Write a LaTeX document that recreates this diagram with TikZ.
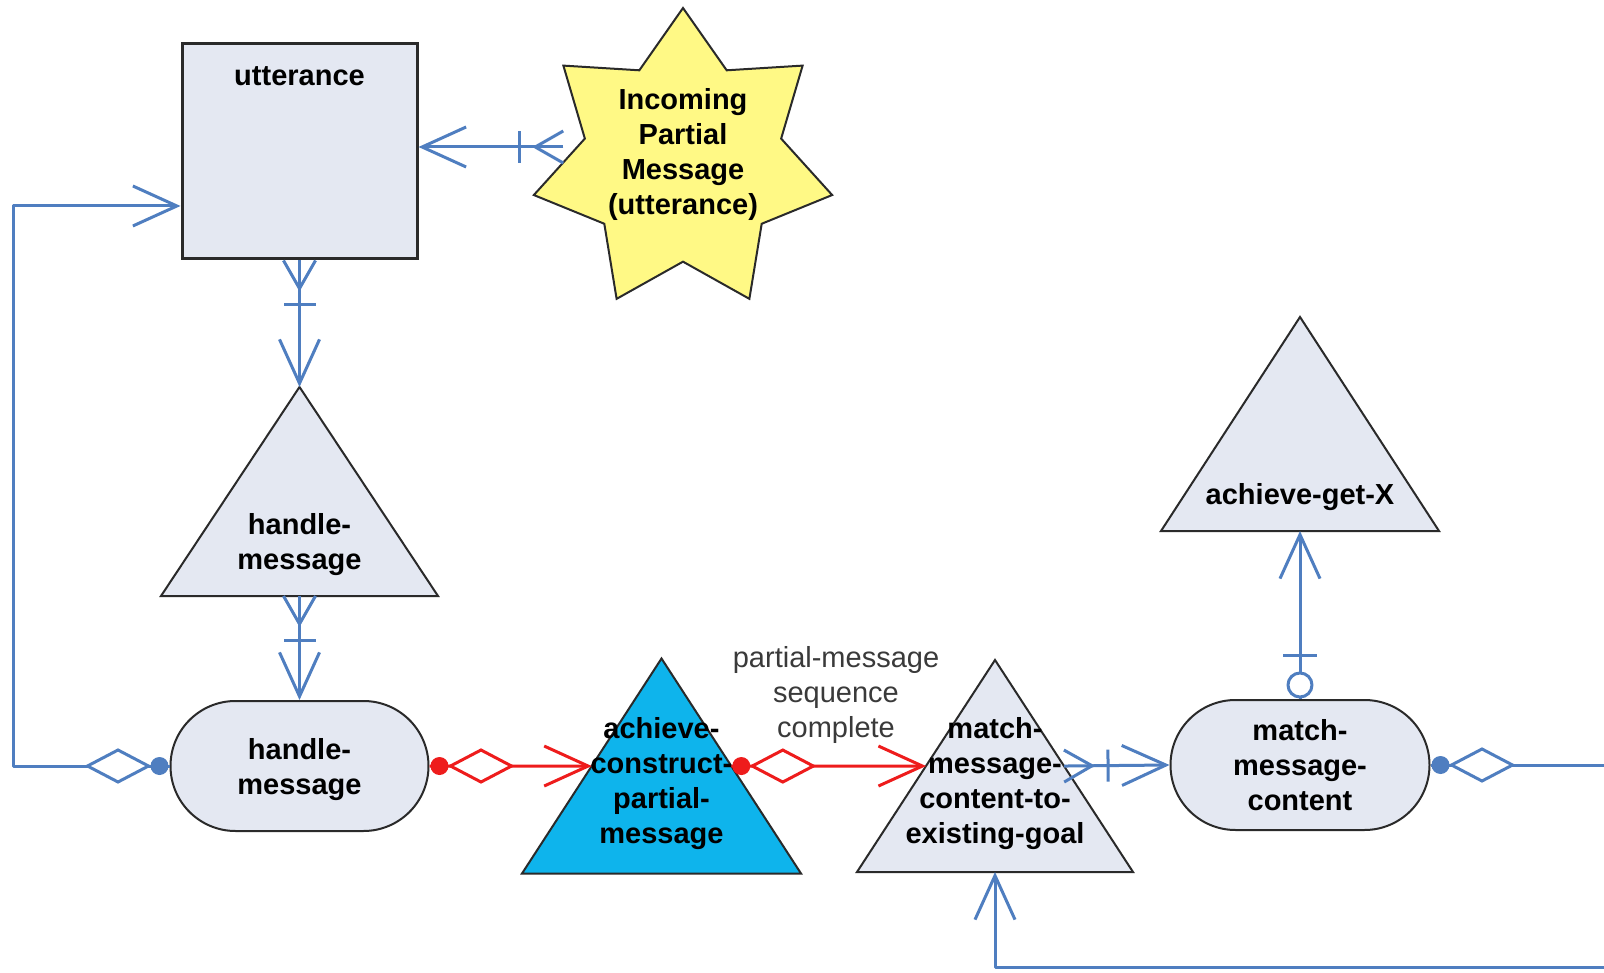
\documentclass[tikz,border=0pt]{standalone}
\usepackage{fontspec}
\setmainfont{Liberation Sans}
\usetikzlibrary{shapes.geometric,shapes.misc,arrows.meta,decorations.markings,calc}

\definecolor{nodefill}{HTML}{E4E8F2}
\definecolor{linkblue}{HTML}{4F7EC0}
\definecolor{linkred}{HTML}{EE1C1C}
\definecolor{goalcyan}{HTML}{0EB4EC}
\definecolor{starfill}{HTML}{FFF985}
\definecolor{edgegray}{HTML}{2A2A2A}
\definecolor{notegray}{HTML}{3A3A3A}

\tikzset{
  every node/.style={align=center, font=\fontsize{29}{35}\selectfont\bfseries},
  entity/.style={rectangle, draw=edgegray, line width=3pt, fill=nodefill,
    minimum width=235pt, minimum height=215pt, inner sep=0pt},
  pill/.style={rounded rectangle, draw=edgegray, line width=2pt, fill=nodefill,
    minimum width=258pt, minimum height=130pt, inner sep=0pt},
  tribox/.style={rectangle, draw=none, inner sep=0pt, outer sep=0pt},
  tri/.style={draw=edgegray, line width=2pt, fill=nodefill, line join=miter},
  burst/.style={star, star points=7, star point ratio=1.52, minimum size=306pt,
    draw=edgegray, line width=2pt, fill=starfill, inner sep=0pt},
  txt/.style={inner sep=0pt},
  note/.style={inner sep=0pt, text=notegray, font=\fontsize{29}{35}\selectfont\mdseries},
  link/.style={line width=3pt, color=#1, line join=round,
    -{Straight Barb[length=44pt,width=40pt]}},
  crowbar/.style={postaction={decorate,decoration={markings,mark=at position 0 with {
    \draw[arrows=-, line width=3pt, color=#1] (0pt,16pt) -- (28pt,0pt) -- (0pt,-16pt);
    \draw[arrows=-, line width=3pt, color=#1] (44pt,16pt) -- (44pt,-16pt);}}}},
  dotdiamond/.style={postaction={decorate,decoration={markings,mark=at position 0 with {
    \fill[arrows=-, color=#1] (10pt,0pt) circle[radius=9pt];
    \filldraw[arrows=-, line width=3pt, draw=#1, fill=white, line join=miter]
      (21pt,0pt) -- (51.5pt,16pt) -- (82pt,0pt) -- (51.5pt,-16pt) -- cycle;}}}},
  ringbar/.style={postaction={decorate,decoration={markings,mark=at position 0 with {
    \filldraw[arrows=-, line width=3pt, draw=#1, fill=white] (14pt,0pt) circle[radius=12pt];
    \draw[arrows=-, line width=3pt, color=#1] (44pt,17pt) -- (44pt,-17pt);}}}},
}

\begin{document}
\begin{tikzpicture}[x=1pt,y=-1pt]
\useasboundingbox (0,0) rectangle (1604,973);
\clip (0,0) rectangle (1604,973);
\fill[white] (0,0) rectangle (1604,973);

% shapes
\node[entity] (utt) at (299.5,151.5) {};
\node[burst] (star) at (683,161) {};
\node[tribox, minimum width=277pt, minimum height=209pt] (hmt) at (299.5,491.5) {};
\node[pill] (hmr) at (299.5,766) {};
\node[tribox, minimum width=279pt, minimum height=215pt] (acp) at (661.5,766) {};
\node[tribox, minimum width=276pt, minimum height=212pt] (mmg) at (995,766) {};
\node[pill, minimum width=259pt] (mmc) at (1300,765) {};
\node[tribox, minimum width=278pt, minimum height=214pt] (agx) at (1300,424) {};

\filldraw[tri] (hmt.south west) -- (hmt.north) -- (hmt.south east) -- cycle;
\filldraw[tri, fill=goalcyan] (acp.south west) -- (acp.north) -- (acp.south east) -- cycle;
\filldraw[tri] (mmg.south west) -- (mmg.north) -- (mmg.south east) -- cycle;
\filldraw[tri] (agx.south west) -- (agx.north) -- (agx.south east) -- cycle;

% connectors
\coordinate (uttport) at ([yshift=4.5pt]utt.east);
\draw[link=linkblue, crowbar=linkblue] (star.west |- uttport) -- (uttport);
\draw[link=linkblue, crowbar=linkblue] (utt.south) -- (hmt.north);
\draw[link=linkblue, crowbar=linkblue] (hmt.south) -- (hmr.north);
\draw[link=linkblue, dotdiamond=linkblue] (hmr.west) -- ++(-156.5,0)
  |- ($(utt.south west)!0.25!(utt.north west)$);
\draw[link=linkred, dotdiamond=linkred] (hmr.east)
  -- (intersection of hmr.east--acp.east and acp.north--acp.south west);
\draw[link=linkred, dotdiamond=linkred]
  (intersection of acp.west--acp.east and acp.north--acp.south east)
  -- (intersection of mmg.west--mmg.east and mmg.north--mmg.south west);
\draw[link=linkblue, crowbar=linkblue]
  (intersection of mmg.west--mmg.east and mmg.north--mmg.south east) -- (mmc.west);
\draw[link=linkblue, ringbar=linkblue] (mmc.north) -- (agx.south);
\draw[link=linkblue, dotdiamond=linkblue] (mmc.east) -- ++(190,0) -- ++(0,202)
  -| (mmg.south);

% texts
\node[txt] (uttlbl) at (299.5,76) {utterance};
\node[txt] (startxt) at (683,155) {Incoming\\Partial\\Message\\(utterance)};
\node[txt] (hmtlbl) at (299.5,545) {handle-\\message};
\node[txt] (hmrlbl) at (299.5,770) {handle-\\message};
\node[txt] (acplbl) at (661.5,784) {achieve-\\construct-\\partial-\\message};
\node[txt] (mmglbl) at (995,784) {match-\\message-\\content-to-\\existing-goal};
\node[txt] (mmclbl) at (1300,765) {match-\\message-\\content};
\node[txt] (agxlbl) at (1300,497) {achieve-get-X};
\node[note] (seqlbl) at (836,695) {partial-message\\sequence\\complete};
\end{tikzpicture}
\end{document}
